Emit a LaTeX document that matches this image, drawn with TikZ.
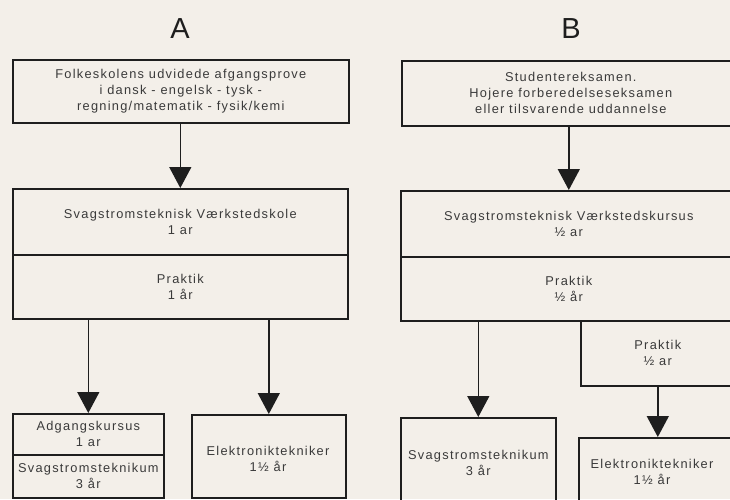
\documentclass[tikz,border=0pt]{standalone}
\usepackage{fontspec}
\setmainfont{Liberation Sans}
\newfontfamily\bodyfont{Liberation Sans}[LetterSpace=10]
\usetikzlibrary{arrows.meta}
\definecolor{bgc}{HTML}{F3EFE9}
\definecolor{ink}{HTML}{1E1E1E}
\definecolor{txt}{HTML}{3A3A3A}
\tikzset{
  box/.style={draw=ink, line width=1.6pt, inner sep=0pt, anchor=north west,
    align=center, text=txt, font={\bodyfont\fontsize{12.8}{16}\selectfont}},
  lbl/.style={inner sep=0pt, align=center, text=txt, font={\bodyfont\fontsize{12.8}{16}\selectfont}},
  title/.style={inner sep=0pt, text=ink, font={\fontsize{29}{30}\selectfont}},
  arr/.style={draw=ink, line width=1.5pt, -{Triangle[width=22pt,length=21pt]}}
}
\begin{document}
\begin{tikzpicture}[x=1pt,y=-1pt]
\useasboundingbox (0,0) rectangle (730,499);
\fill[bgc] (0,0) rectangle (730,499);
\clip (0,0) rectangle (730,499);

% titles
\node[title] (tA) at (180,29) {A};
\node[title] (tB) at (571,29) {B};

% ---------- A ----------
\node[box, minimum width=336pt, minimum height=63pt] (topA) at (12,59)
  {Folkeskolens udvidede afgangsprove\\i dansk - engelsk - tysk -\\regning/matematik - fysik/kemi};
\node[box, minimum width=335pt, minimum height=66pt] (midA1) at (12,188)
  {Svagstromsteknisk Værkstedskole\\1 ar};
\node[box, minimum width=335pt, minimum height=64pt] (midA2) at (12,254)
  {Praktik\\1 år};
\node[box, minimum width=151pt, minimum height=41pt] (adg) at (12,413)
  {Adgangskursus\\1 ar};
\node[box, minimum width=151pt, minimum height=43pt] (svA) at (12,454)
  {Svagstromsteknikum\\3 år};
\node[box, minimum width=154pt, minimum height=83pt] (elA) at (191,414) {};
\node[lbl] (elAt) at (268,459) {Elektroniktekniker\\1½ år};

\draw[arr] (topA.south -| midA1.north) -- (midA1.north);
\draw[arr] (midA2.south -| adg.north) -- (adg.north);
\draw[arr] (midA2.south -| elA.north) -- (elA.north);

% ---------- B ----------
\node[box, minimum width=338pt, minimum height=65pt] (topB) at (401,60)
  {Studentereksamen.\\Hojere forberedelseseksamen\\eller tilsvarende uddannelse};
\node[box, minimum width=336pt, minimum height=66pt] (midB1) at (400,190)
  {Svagstromsteknisk Værkstedskursus\\½ ar};
\node[box, minimum width=336pt, minimum height=64pt] (midB2) at (400,256)
  {Praktik\\½ år};
\node[box, minimum width=154pt, minimum height=65pt] (prB) at (580,320)
  {Praktik\\½ ar};
\node[box, minimum width=155pt, minimum height=90pt] (svB) at (400,417)
  {Svagstromsteknikum\\3 år};
\node[box, minimum width=170pt, minimum height=90pt] (elB) at (578,437) {};
\node[lbl] (elBt) at (652,472) {Elektroniktekniker\\1½ år};

\draw[arr] (topB.south -| midB1.north) -- (midB1.north);
\draw[arr] (midB2.south -| svB.north) -- (svB.north);
\draw[arr] (prB.south) -- (prB.south |- elB.north);
\end{tikzpicture}
\end{document}
